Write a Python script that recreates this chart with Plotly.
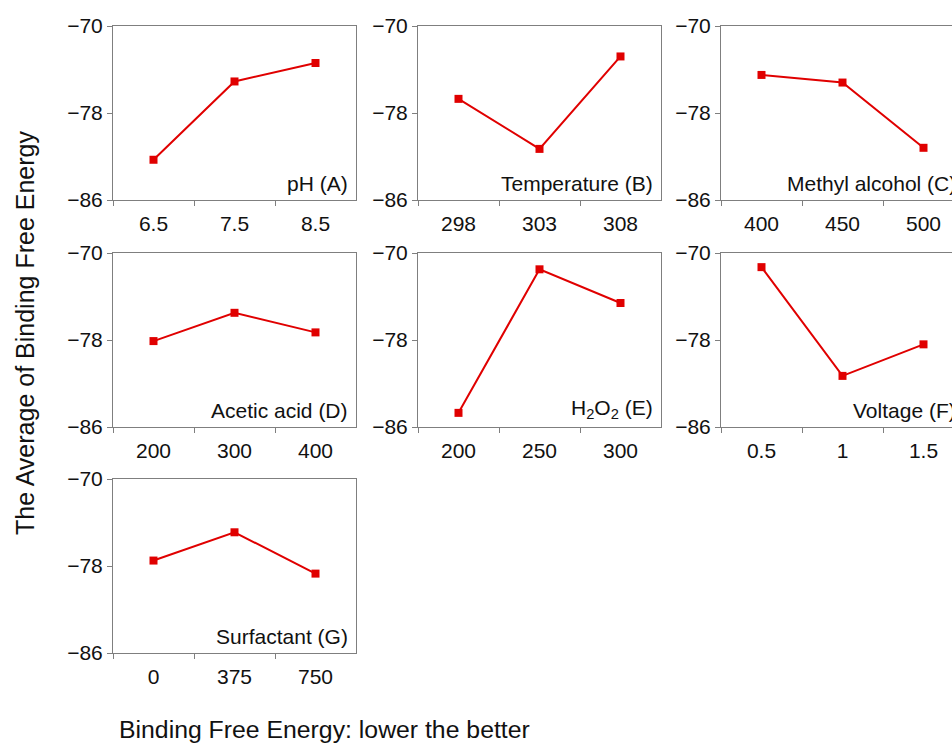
import plotly.graph_objects as go

W, H = 952, 744

# ---- data ----
factor_labels = ["pH (A)", "Temperature (B)", "Methyl alcohol (C)",
                 "Acetic acid (D)", "H<sub>2</sub>O<sub>2</sub> (E)", "Voltage (F)",
                 "Surfactant (G)"]
levels_A = ["6.5", "7.5", "8.5"]
levels_B = ["298", "303", "308"]
levels_C = ["400", "450", "500"]
levels_D = ["200", "300", "400"]
levels_E = ["200", "250", "300"]
levels_F = ["0.5", "1", "1.5"]
levels_G = ["0", "375", "750"]

values_A = [-82.3, -75.1, -73.4]
values_B = [-76.7, -81.3, -72.8]
values_C = [-74.5, -75.2, -81.2]
values_D = [-78.1, -75.5, -77.3]
values_E = [-84.7, -71.5, -74.6]
values_F = [-71.3, -81.3, -78.4]
values_G = [-77.5, -74.9, -78.7]

y_tickvals = [-70, -78, -86]
y_ticktext = ["\u221270", "\u221278", "\u221286"]

y_title = "The Average of Binding Free Energy"
note = "Binding Free Energy: lower the better"

levels = [levels_A, levels_B, levels_C, levels_D, levels_E, levels_F, levels_G]
values = [values_A, values_B, values_C, values_D, values_E, values_F, values_G]

# ---- layout geometry (window pixels) ----
col_x = [113, 418, 721]
row_y = [26, 253, 479]
pw, ph = 243, 174

RED = "#e00000"
GRAY = "#7f7f7f"
FONT = "Liberation Sans, Arial, sans-serif"


def fx(p):
    return p / W


def fy(p):
    return 1 - p / H


fig = go.Figure()
layout = dict(
    width=W, height=H, autosize=False,
    margin=dict(l=0, r=0, t=0, b=0, pad=0, autoexpand=False),
    paper_bgcolor="white", plot_bgcolor="white",
    showlegend=False,
    font=dict(family=FONT, size=21, color="#111111"),
)
annotations = []

for i in range(7):
    r, c = divmod(i, 3)
    n = i + 1
    xa = "xaxis" if n == 1 else f"xaxis{n}"
    ya = "yaxis" if n == 1 else f"yaxis{n}"
    xref = "x" if n == 1 else f"x{n}"
    yref = "y" if n == 1 else f"y{n}"

    x0 = col_x[c]
    x1 = x0 + pw
    xr_hi = 2.5
    mirror_y = True
    if x1 > W:
        xr_hi = -0.5 + 3 * (W - x0) / pw
        x1 = W
        mirror_y = False
    y0 = row_y[r]
    y1 = y0 + ph

    fig.add_trace(go.Scatter(
        x=levels[i], y=values[i], mode="lines+markers",
        line=dict(color=RED, width=2),
        marker=dict(symbol="square", size=8, color=RED),
        xaxis=xref, yaxis=yref, cliponaxis=False,
    ))

    layout[xa] = dict(
        domain=[fx(x0), min(fx(x1), 1.0)], anchor=yref, type="category",
        range=[-0.5, xr_hi], tickson="boundaries",
        ticks="outside", ticklen=5, tickcolor=GRAY, tickwidth=1,
        showline=True, linecolor=GRAY, linewidth=1, mirror=True,
        showgrid=False, zeroline=False, ticklabelstandoff=5,
        automargin=False,
        tickfont=dict(size=21, color="#111111"),
    )
    layout[ya] = dict(
        domain=[fy(y1), fy(y0)], anchor=xref,
        range=[-86, -70], tickvals=y_tickvals, ticktext=y_ticktext,
        ticks="outside", ticklen=5, tickcolor=GRAY, tickwidth=1,
        showline=True, linecolor=GRAY, linewidth=1, mirror=mirror_y,
        showgrid=False, zeroline=False, ticklabelstandoff=0,
        automargin=False,
        tickfont=dict(size=21, color="#111111"),
    )

    annotations.append(dict(
        text=factor_labels[i], xref="paper", yref="paper",
        x=fx(col_x[c] + pw - 6), y=fy(y1 - 3),
        xanchor="right", yanchor="bottom", showarrow=False,
        font=dict(size=21, color="#111111"),
    ))

annotations.append(dict(
    text=y_title, xref="paper", yref="paper", x=fx(25), y=fy(333),
    xanchor="center", yanchor="middle", textangle=-90, showarrow=False,
    font=dict(size=25, color="#111111"),
))
annotations.append(dict(
    text=note, xref="paper", yref="paper", x=fx(117), y=fy(729),
    xanchor="left", yanchor="middle", showarrow=False,
    font=dict(size=24.8, color="#111111"),
))
layout["annotations"] = annotations

fig.update_layout(**layout)
fig.write_html(
    "out.html",
    config={"displayModeBar": False},
    post_script="document.body.style.margin='0';document.body.style.overflow='hidden';",
)
